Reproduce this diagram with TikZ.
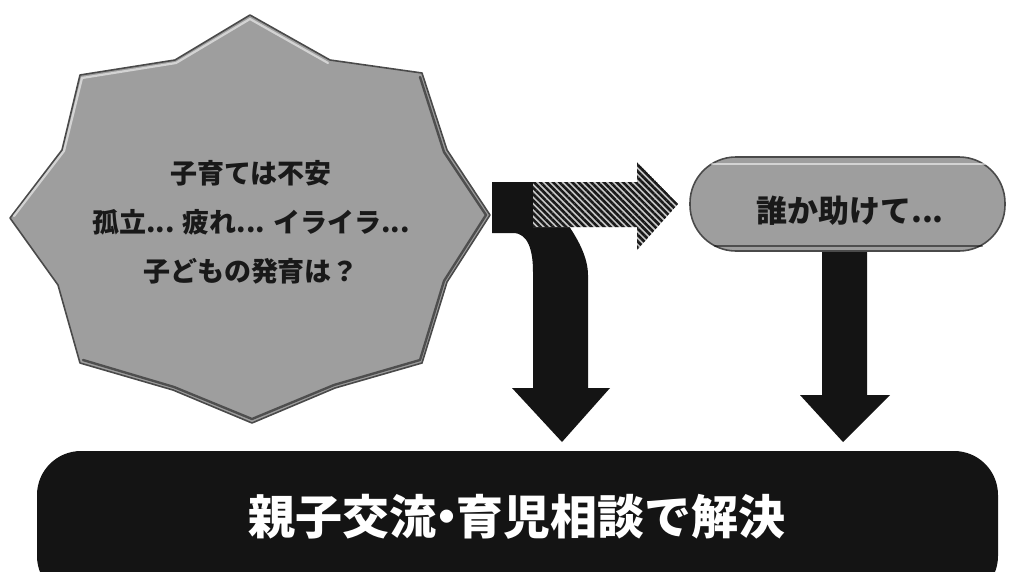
\documentclass[tikz,border=0pt]{standalone}
\usepackage{fontspec}
\newfontfamily\jp{Noto Sans CJK JP}
\usetikzlibrary{patterns.meta}
\definecolor{bevelgray}{HTML}{9E9E9E}
\definecolor{beveldark}{HTML}{4A4A4A}
\definecolor{barblack}{HTML}{141414}
\tikzset{
  bevelshape/.style={fill=bevelgray, draw=beveldark, line width=1.6pt, line join=round},
  highlight/.style={draw=white, opacity=0.55, line width=2.2pt, line cap=round, line join=round},
  shadowedge/.style={draw=black, opacity=0.5, line width=2.4pt, line cap=round, line join=round},
  blockarrow/.style={fill=barblack, draw=none},
  hatcharrow/.style={preaction={fill=gray!45}, pattern={Lines[angle=-45, distance=4.5pt, line width=2.6pt]}, pattern color=black!90},
  startext/.style={font=\jp\bfseries\fontsize{27}{49}\selectfont, align=center, text=black!90},
  pilltext/.style={font=\jp\bfseries\fontsize{31}{36}\selectfont, text=black!90},
  bartext/.style={font=\jp\bfseries\fontsize{47}{50}\selectfont, text=white}
}
\begin{document}
\begin{tikzpicture}[x=1pt,y=-1pt]
\useasboundingbox (0,0) rectangle (1013,571);
\fill[white] (0,0) rectangle (1013,571);
\clip (0,0) rectangle (1013,571);

% right down arrow (behind pill)
\path[blockarrow] (822,240) -- (867,240) -- (867,395) -- (890,395) -- (843,442) -- (800,395) -- (822,395) -- cycle;

% star shape
\path[bevelshape] (250,15) -- (330,60) -- (422,73) -- (447,150) -- (490,215) -- (447,282) -- (422,363) -- (335,388) -- (252,423) -- (173,390) -- (80,363) -- (58,285) -- (10,218) -- (62,150) -- (80,75) -- (175,60) -- cycle;
\draw[highlight] (14,216) -- (64,151) -- (82,78) -- (176,63) -- (250,19) -- (328,63);
\draw[shadowedge] (420,77) -- (444,152) -- (486,215) -- (444,281) -- (420,360) -- (334,385) -- (252,419) -- (174,387) -- (83,360);
\node[startext] (worry) at (251,222) {子育ては不安\\孤立... 疲れ... イライラ...\\子どもの発育は？};

% bent black arrow (left)
\path[blockarrow] (492,182) -- (533,182) .. controls (548,200) and (588,240) .. (588,275) -- (588,388) -- (610,388) -- (562,442) -- (512,388) -- (533,388) -- (533,272) .. controls (533,250) and (528,233) .. (513,233) -- (492,233) -- cycle;

% hatched arrow to the right
\path[hatcharrow] (533,182) -- (637,182) -- (637,162) -- (678,204) -- (637,250) -- (637,227) -- (533,227) -- cycle;

% pill
\path[bevelshape, rounded corners=46pt] (690,157) rectangle (1005,251);
\draw[highlight] (712,164) -- (985,164);
\draw[shadowedge] (715,246) -- (982,246);
\node[pilltext] (help) at (850,211) {誰か助けて...};

% bottom bar
\path[fill=barblack, rounded corners=44pt] (37,451) rectangle (998,600);
\node[bartext] (solve) at (517,517) {親子交流\kern-0.28em・\kern-0.28em 育児相談で解決};
\end{tikzpicture}
\end{document}
